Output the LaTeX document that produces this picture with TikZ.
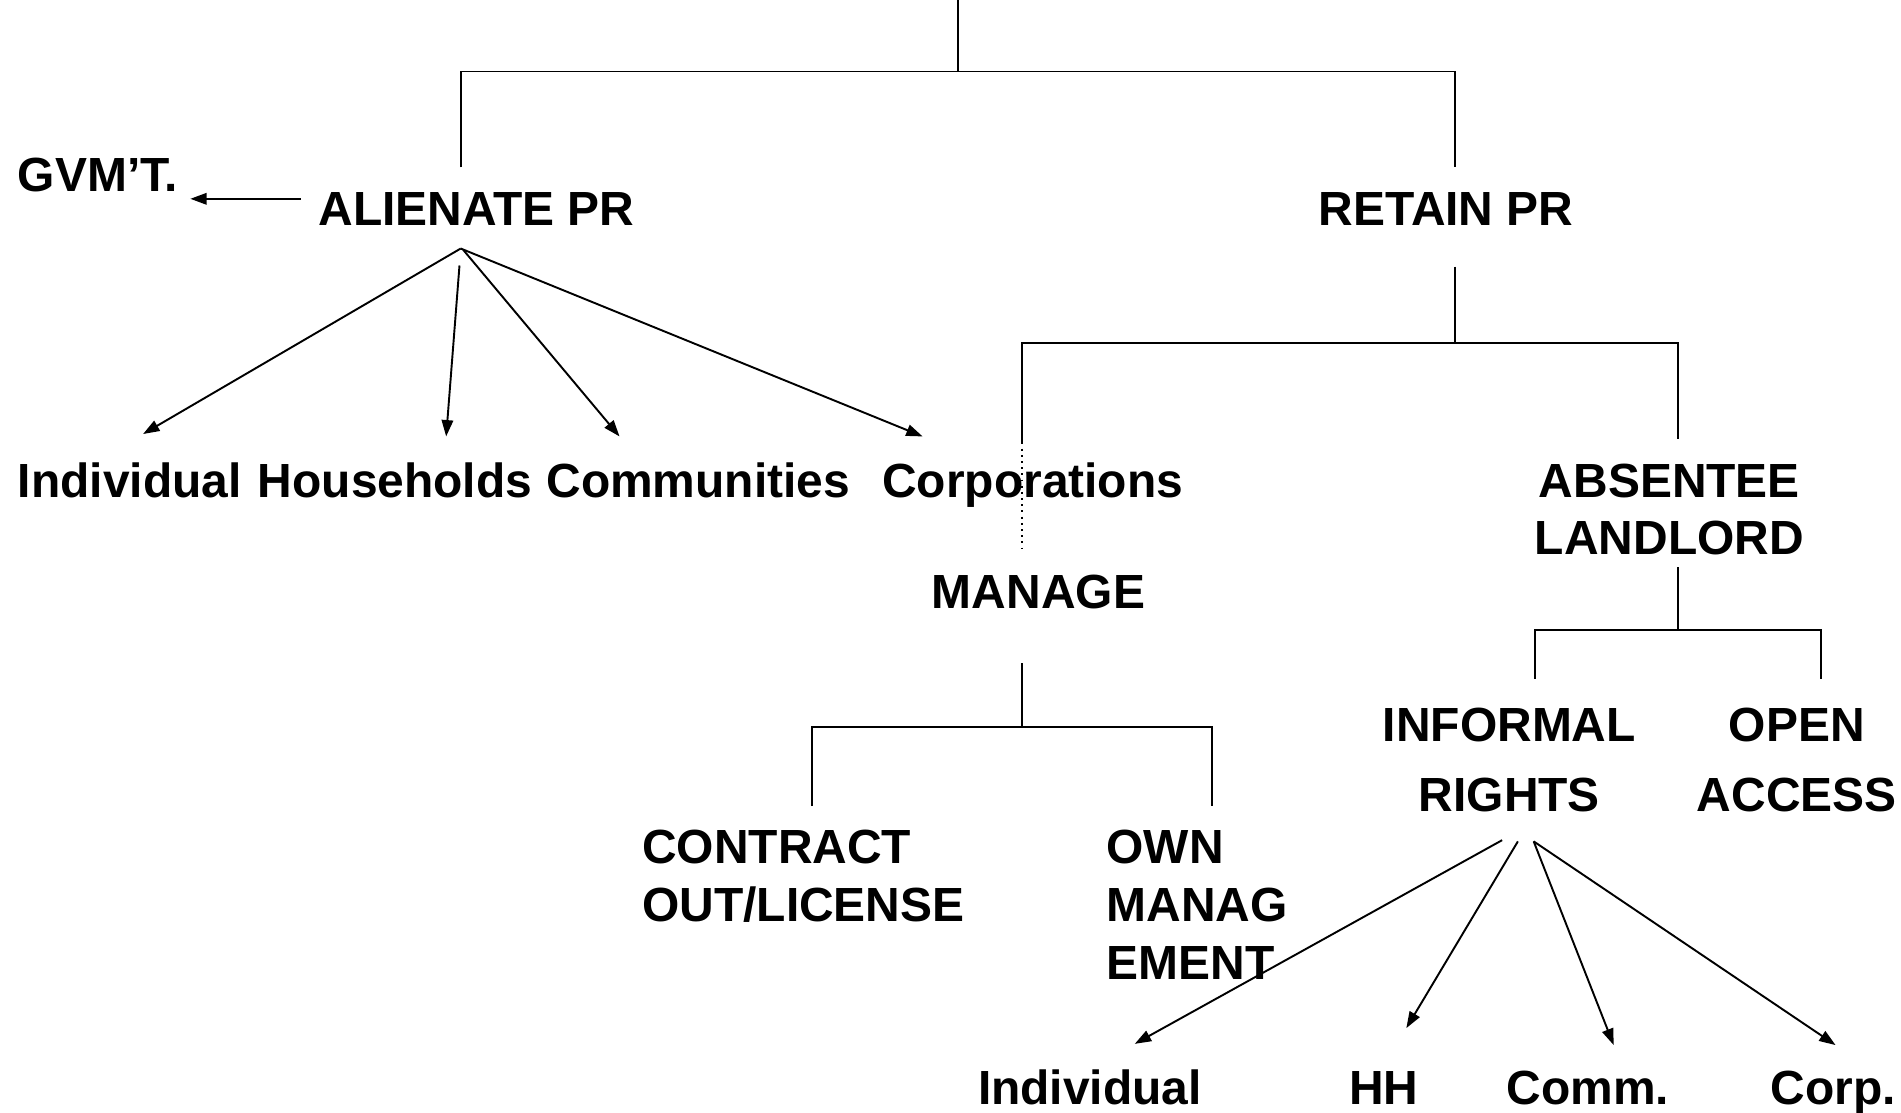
\documentclass[tikz,border=0pt]{standalone}
\usepackage{fontspec}
\setmainfont{Liberation Sans}
\usetikzlibrary{arrows.meta}
\begin{document}
\begin{tikzpicture}[x=0.1mm,y=-0.1mm,
  lbl/.style={inner sep=0pt,font=\bfseries\fontsize{11.25}{13.4}\selectfont},
  conn/.style={line width=0.45pt},
  arr/.style={conn,-{Triangle[length=1.35mm,width=0.95mm]}},
  dotline/.style={line width=0.45pt,densely dotted}]
\useasboundingbox (0,0) rectangle (1568,918);

% labels
\node[lbl,anchor=base west] (gvmt) at (14,158) {GVM’T.};
\node[lbl,anchor=base west] (alien) at (262,186) {ALIENATE PR};
\node[lbl,anchor=base west] (retain) at (1087,186) {RETAIN PR};
\node[lbl,anchor=base west] (ind1) at (14,410) {Individual};
\node[lbl,anchor=base west] (hh1) at (212,410) {Households};
\node[lbl,anchor=base west] (comm1) at (450,410) {Communities};
\node[lbl,anchor=base west] (corp1) at (727,410) {Corporations};
\node[lbl,anchor=north,align=center,font=\bfseries\fontsize{11.25}{13.37}\selectfont] (absent) at (1377,382) {ABSENTEE\\LANDLORD};
\node[lbl,anchor=base west] (manage) at (768,502) {MANAGE};
\node[lbl,anchor=north west,align=left,font=\bfseries\fontsize{11.25}{13.66}\selectfont] (contract) at (529,684) {CONTRACT\\OUT/LICENSE};
\node[lbl,anchor=north west,align=left,font=\bfseries\fontsize{11.25}{13.66}\selectfont] (own) at (912,684) {OWN\\MANAG\\EMENT};
\node[lbl,anchor=north,align=center,font=\bfseries\fontsize{11.25}{16.5}\selectfont] (informal) at (1245,583) {INFORMAL\\RIGHTS};
\node[lbl,anchor=north,align=center,font=\bfseries\fontsize{11.25}{16.5}\selectfont] (open) at (1482,583) {OPEN\\ACCESS};
\node[lbl,anchor=base west] (ind2) at (806,911) {Individual};
\node[lbl,anchor=base west] (hh2) at (1112,911) {HH};
\node[lbl,anchor=base west] (comm2) at (1242,911) {Comm.};
\node[lbl,anchor=base west] (corp2) at (1460,911) {Corp.};

% connector end points
\coordinate (top) at (790,0);
\coordinate (j0) at (790,59);
\coordinate (aTop) at (380,138);
\coordinate (rTop) at (1200,138);
\coordinate (gFrom) at (248,164);
\coordinate (gTo) at (157,164);
\coordinate (aBot) at (380,205);
\coordinate (aBotB) at (379,219);
\coordinate (aBotC) at (382,206);
\coordinate (t1) at (118,358);
\coordinate (t2) at (368,360);
\coordinate (t3) at (511,360);
\coordinate (t4) at (761,360);
\coordinate (rBot) at (1200,220);
\coordinate (j1) at (1200,283);
\coordinate (mTop) at (843,365);
\coordinate (mDot) at (843,452);
\coordinate (lTop) at (1384,362);
\coordinate (mBot) at (843,547);
\coordinate (j2) at (843,600);
\coordinate (cTop) at (670,665);
\coordinate (oTop) at (1000,665);
\coordinate (lBot) at (1384,468);
\coordinate (j3) at (1384,520);
\coordinate (iTop) at (1266,560);
\coordinate (pTop) at (1502,560);
\coordinate (iBotA) at (1239,693);
\coordinate (iBotB) at (1252,694);
\coordinate (iBotC) at (1265,694);
\coordinate (u1) at (936,861);
\coordinate (u2) at (1160,848);
\coordinate (u3) at (1331,862);
\coordinate (u4) at (1514,862);

% tree
\draw[conn] (top) -- (j0);
\draw[conn] (aTop) |- (j0) -| (rTop);
\draw[arr] (gFrom) -- (gTo);
\draw[arr] (aBot) -- (t1);
\draw[arr] (aBotB) -- (t2);
\draw[arr] (aBotC) -- (t3);
\draw[arr] (aBot) -- (t4);

\draw[conn] (rBot) -- (j1);
\draw[conn] (mTop) |- (j1) -| (lTop);
\draw[dotline] (mTop) -- (mDot);

\draw[conn] (mBot) -- (j2);
\draw[conn] (cTop) |- (j2) -| (oTop);

\draw[conn] (lBot) -- (j3);
\draw[conn] (iTop) |- (j3) -| (pTop);

\draw[arr] (iBotA) -- (u1);
\draw[arr] (iBotB) -- (u2);
\draw[arr] (iBotC) -- (u3);
\draw[arr] (iBotC) -- (u4);
\end{tikzpicture}
\end{document}
